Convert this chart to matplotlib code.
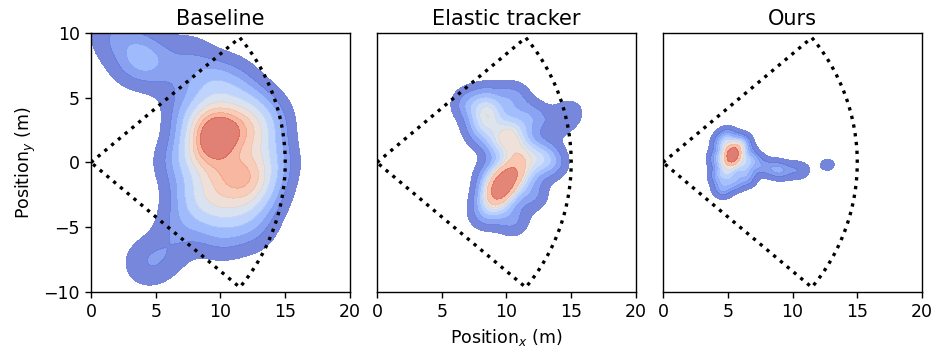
import numpy as np
import matplotlib
matplotlib.use("Agg")
import matplotlib.pyplot as plt

titles = ["Baseline", "Elastic tracker", "Ours"]

# hand-read sample positions (x, y) and weights for each method
base_x = [9.4, 9.6, 11.0, 12.8, 11.5, 10.0, 12.5, 8.2, 8.0, 9.5, 11.5, 13.2, 7.8, 9.5,
          12.0, 13.6, 14.0, 7.0, 10.0, 12.5, 8.5, 11.0, 6.5,
          6.0, 4.0, 1.5, 4.3, 7.5, 2.5, 3.0, 4.3, 6.0]
base_y = [1.4, 2.8, 2.5, 2.0, -0.8, -1.2, -1.0, 0.5, -2.5, -3.5, -3.3, -2.5, 3.5, 5.5,
          4.5, 3.5, 0.0, -4.8, -5.8, -5.2, 7.0, 6.5, 0.0,
          6.5, 8.0, 9.5, 8.2, 8.5, 10.5, 7.4, -7.8, -7.0]
base_w = [1.6, 1.6, 1.2, 1.1, 1.1, 1.1, 0.9, 1.0, 0.9, 0.9, 0.9, 0.7, 0.8, 0.8,
          0.8, 0.6, 0.7, 0.5, 0.5, 0.45, 0.35, 0.4, 0.4,
          0.3, 0.35, 0.35, 0.5, 0.3, 0.3, 0.25, 0.5, 0.3]

elas_x = [9.3, 10.0, 10.5, 9.0, 8.6, 10.4, 8.0, 9.5, 11.0, 12.5, 13.5, 12.0, 10.5, 7.0,
          8.5, 15.0, 14.0, 8.3, 10.5, 12.0, 8.8, 11.5]
elas_y = [-2.3, -1.5, -0.6, -3.0, 3.7, 2.5, 2.5, 1.5, 1.0, 0.5, 0.0, 3.5, 5.0, 4.5,
          5.0, 3.9, 3.0, -4.0, -4.5, -2.5, -1.0, -0.5]
elas_w = [1.4, 1.6, 1.2, 0.9, 1.2, 1.1, 0.7, 1.0, 1.0, 0.8, 0.6, 0.6, 0.6, 0.6,
          0.5, 0.3, 0.3, 0.5, 0.5, 0.5, 0.5, 0.6]

ours_x = [5.1, 5.6, 5.2, 5.7, 6.1, 5.0, 4.5, 4.2, 4.3, 4.6, 5.5, 6.5, 6.8, 5.0,
          6.3, 7.6, 8.5, 9.2, 10.2, 10.9, 12.4, 13.0]
ours_y = [0.2, 0.3, 0.9, 1.0, 1.5, -0.6, 1.5, 0.3, -1.0, -2.0, -1.5, -1.2, 0.3, 2.0,
          -0.4, -0.3, -0.5, -0.6, -0.6, -0.6, -0.2, -0.15]
ours_w = [1.2, 1.1, 1.2, 1.0, 0.8, 0.8, 0.6, 0.6, 0.6, 0.6, 0.6, 0.5, 0.7, 0.6,
          0.6, 0.4, 0.4, 0.45, 0.3, 0.15, 0.12, 0.12]

data = [(base_x, base_y, base_w, 1.4),
        (elas_x, elas_y, elas_w, 0.9),
        (ours_x, ours_y, ours_w, 0.5)]

fov_range = 15.0
fov_half = 40.0


def kde(xx, yy, px, py, w, bw):
    z = np.zeros_like(xx)
    for a, b, c in zip(px, py, w):
        z += c * np.exp(-((xx - a) ** 2 + (yy - b) ** 2) / (2 * bw ** 2))
    return z / z.sum()


def iso_levels(z, props):
    vals = np.sort(z.ravel())[::-1]
    cum = np.cumsum(vals) / vals.sum()
    idx = np.searchsorted(cum, 1 - np.asarray(props))
    idx = np.clip(idx, 0, len(vals) - 1)
    return np.unique(vals[idx])


gx = np.linspace(-2, 22, 300)
gy = np.linspace(-12, 12, 300)
xx, yy = np.meshgrid(gx, gy)

plt.rcParams["axes.linewidth"] = 1.0
fig = plt.figure(figsize=(9.37, 3.56), dpi=100)
lefts = [0.0971, 0.4023, 0.7076]
axes = [fig.add_axes([l, 0.1798, 0.2764, 0.7275]) for l in lefts]

th = np.radians(np.linspace(fov_half, -fov_half, 100))
sx = np.concatenate([[0], fov_range * np.cos(th), [0]])
sy = np.concatenate([[0], fov_range * np.sin(th), [0]])

for i, ax in enumerate(axes):
    px, py, w, bw = data[i]
    z = kde(xx, yy, px, py, w, bw)
    lv = iso_levels(z, np.linspace(0.05, 1, 10))
    ax.contourf(xx, yy, z, levels=lv, cmap="coolwarm", alpha=0.75)
    ax.plot(sx, sy, color="black", linestyle=":", linewidth=2.4)
    ax.set_xlim(0, 20)
    ax.set_ylim(-10, 10)
    ax.set_xticks([0, 5, 10, 15, 20])
    ax.set_yticks([-10, -5, 0, 5, 10])
    ax.set_title(titles[i], fontsize=15)
    ax.tick_params(labelsize=12.5, width=1.0, length=4.4)
    if i > 0:
        ax.set_yticklabels([])
        ax.tick_params(axis="y", length=0)

axes[0].set_ylabel("Position$_y$ (m)", fontsize=12.5)
axes[1].set_xlabel("Position$_x$ (m)", fontsize=12.5)

fig.savefig("out.png", dpi=100)
